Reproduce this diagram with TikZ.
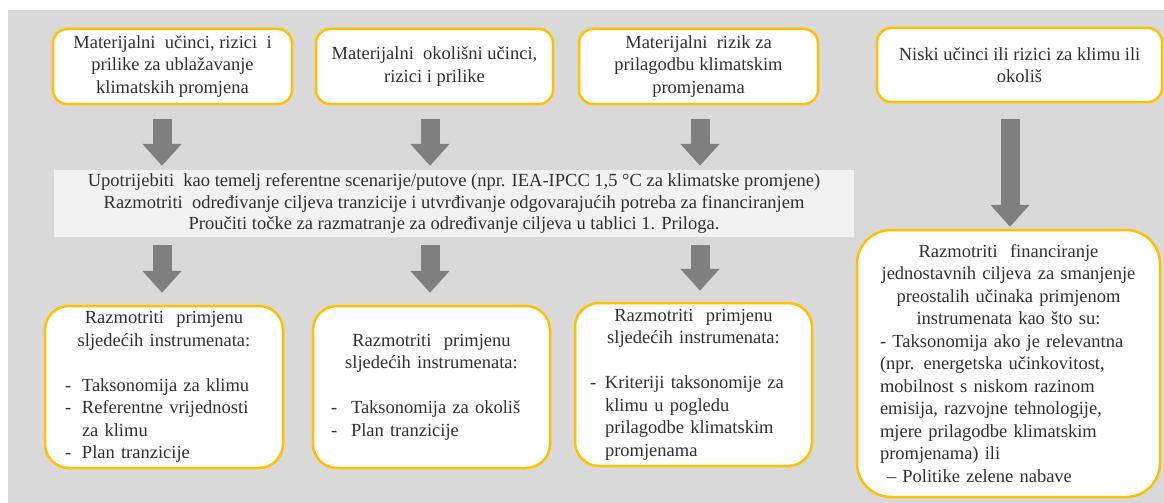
\documentclass[tikz,border=0pt]{standalone}
\usepackage{fontspec}
\setmainfont{Liberation Serif}
\usetikzlibrary{arrows.meta}
\definecolor{bggray}{HTML}{D9D9D9}
\definecolor{bandgray}{HTML}{F2F2F2}
\definecolor{gold}{HTML}{FFC000}
\definecolor{arrowgray}{HTML}{7F7F7F}
\definecolor{txt}{HTML}{303030}
\newcommand{\dashitem}[3]{\par\noindent\hangindent=#1\hangafter=1\makebox[#1][l]{#2}#3}
\begin{document}
\begin{tikzpicture}[x=1pt,y=-1pt,
  font=\rmfamily\fontsize{18.5}{22.5}\selectfont,
  box/.style={draw=gold, line width=2.5pt, fill=white, rounded corners=14pt, text=txt, inner sep=0pt},
  bigbox/.style={box, rounded corners=24pt},
  blockarrow/.style={draw=arrowgray, line width=19pt, -{Triangle[width=38pt,length=22pt,fill=arrowgray]}}
]
\useasboundingbox (0,0) rectangle (1164,503);
\fill[white] (0,0) rectangle (1164,503);
\fill[bggray] (8,10) rectangle (1164,503);

% top boxes
\node[box, minimum width=239pt, minimum height=75pt, align=center] (b1) at (172.5,66.5)
  {Materijalni\ \ učinci, rizici\ \ i\\prilike za ublažavanje\\klimatskih promjena};
\node[box, minimum width=237pt, minimum height=75pt, align=center] (b2) at (434.5,66.5)
  {Materijalni\ \ okolišni učinci,\\rizici i prilike};
\node[box, minimum width=239pt, minimum height=75pt, align=center] (b3) at (698.5,66.5)
  {Materijalni\ \ rizik za\\prilagodbu klimatskim\\promjenama};
\node[box, minimum width=285pt, minimum height=74pt, align=center] (b4) at (1019.5,65)
  {Niski učinci ili rizici za klimu ili\\okoliš};

% middle band
\node[fill=bandgray, text=txt, minimum width=800pt, minimum height=67pt, inner sep=0pt, align=center,
  font=\rmfamily\fontsize{18.5}{21.5}\selectfont] (band) at (454,203.5)
  {Upotrijebiti\ \ kao temelj referentne scenarije/putove (npr. IEA-IPCC 1,5 °C za klimatske promjene)\\
   Razmotriti\ \ određivanje ciljeva tranzicije i utvrđivanje odgovarajućih potreba za financiranjem\\
   Proučiti točke za razmatranje za određivanje ciljeva u tablici 1. Priloga.};

% bottom boxes
\node[bigbox, minimum width=238pt, minimum height=162pt, text width=198pt] (b5) at (164,387)
  {{\centering Razmotriti\ \ primjenu\\sljedećih instrumenata:\par}\vspace{22.5pt}\raggedright
   \dashitem{17pt}{-}{Taksonomija za klimu}
   \dashitem{17pt}{-}{Referentne vrijednosti\newline za klimu}
   \dashitem{17pt}{-}{Plan tranzicije}\par};
\node[bigbox, minimum width=237pt, minimum height=162pt, text width=201pt] (b6) at (431.5,387)
  {{\centering Razmotriti\ \ primjenu\\sljedećih instrumenata:\par}\vspace{22.5pt}\raggedright
   \dashitem{20pt}{-}{Taksonomija za okoliš}
   \dashitem{20pt}{-}{Plan tranzicije}\par};
\node[bigbox, minimum width=237pt, minimum height=163pt, text width=207pt] (b7) at (693.5,384.5)
  {{\centering Razmotriti\ \ primjenu\\sljedećih instrumenata:\par}\vspace{22.5pt}\raggedright
   \dashitem{15pt}{-}{Kriteriji\ taksonomije za\newline klimu u pogledu\newline prilagodbe klimatskim\newline promjenama}\par};
\node[box, rounded corners=34pt, minimum width=303pt, minimum height=267pt, text width=265pt] (b8) at (1008.5,363.5)
  {{\centering Razmotriti\ \ financiranje\\jednostavnih ciljeva za smanjenje\\preostalih učinaka primjenom\\instrumenata kao što su:\par}
   \raggedright\leftskip=4pt
   - Taksonomija ako je relevantna\\(npr. energetska učinkovitost,\\mobilnost s niskom razinom\\emisija, razvojne tehnologije,\\mjere prilagodbe klimatskim\\promjenama) ili\\\hspace*{7pt}– Politike zelene nabave\par};

% arrow anchor coordinates
\coordinate (a1) at ([xshift=-10.5pt]b1.south);
\coordinate (a2) at ([xshift=-4.5pt]b2.south);
\coordinate (a3) at ([xshift=1.5pt]b3.south);
\coordinate (a4) at ([xshift=-9.5pt]b4.south);
\coordinate (a5) at ([xshift=-2pt]b5.north);
\coordinate (a6) at ([xshift=-1.5pt]b6.north);
\coordinate (a7) at ([xshift=6.5pt]b7.north);

\draw[blockarrow, shorten <=14pt, shorten >=4pt] (a1) -- (a1 |- band.north);
\draw[blockarrow, shorten <=14pt, shorten >=4pt] (a2) -- (a2 |- band.north);
\draw[blockarrow, shorten <=14pt, shorten >=4pt] (a3) -- (a3 |- band.north);
\draw[blockarrow, shorten <=16pt, shorten >=2pt] (a4) -- (a4 |- b8.north);
\draw[blockarrow, shorten <=8pt, shorten >=12pt] (a5 |- band.south) -- (a5);
\draw[blockarrow, shorten <=8pt, shorten >=12pt] (a6 |- band.south) -- (a6);
\draw[blockarrow, shorten <=8pt, shorten >=11pt] (a7 |- band.south) -- (a7);
\end{tikzpicture}
\end{document}
